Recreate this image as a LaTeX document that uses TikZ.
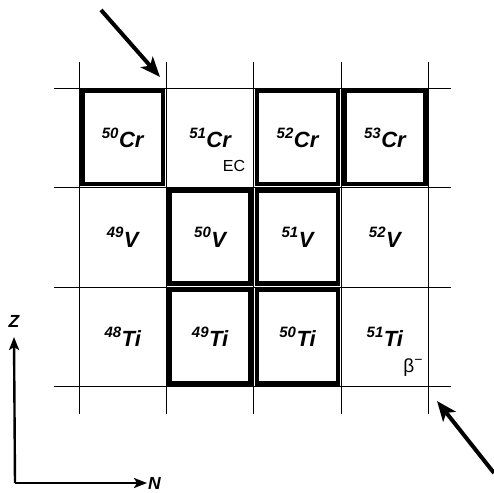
\documentclass[tikz,border=0pt]{standalone}
\usepackage{fontspec}
\setmainfont{Liberation Sans}
\usetikzlibrary{arrows.meta}
\newcommand\nuc[2]{\raisebox{0.42em}{\fontsize{15}{16}\selectfont #1}\kern0.5pt#2}
\tikzset{%
  gridline/.style={line width=0.8pt},
  arrow/.style={-{Stealth[length=20pt,width=16pt,inset=5pt]}, line width=4pt},
  axis/.style={-{Stealth[length=13pt,width=10pt,inset=3pt]}, line width=2.4pt}%
}

\begin{document}
\begin{tikzpicture}[
    x=1pt, y=1pt,
    cell/.style={
        minimum width=80.9pt,
        minimum height=93pt,
        inner sep=0pt,
        font=\fontsize{22}{25}\selectfont\bfseries\itshape
    },
    stable/.style={
        cell,
        draw,
        line width=4.5pt
    },
    decay/.style={
        inner sep=0pt,
        font=\fontsize{16}{18}\selectfont
    },
    axislabel/.style={
        inner sep=0pt,
        font=\fontsize{17.5}{19}\selectfont\bfseries\itshape
    }
]
\useasboundingbox (0,0) rectangle (494,492);

% chart grid
\foreach \i in {0,...,4}
  \draw[gridline] (79+87.4*\i,78) -- (79+87.4*\i,430);
\foreach \j in {0,...,3}
  \draw[gridline] (54,105.5+99.5*\j) -- (451,105.5+99.5*\j);

% Cr row
\node[stable] (cr50) at (122.7,354.25) {\nuc{50}{Cr}};
\node[cell]   (cr51) at (210.1,354.25) {\nuc{51}{Cr}};
\node[stable] (cr52) at (297.5,354.25) {\nuc{52}{Cr}};
\node[stable] (cr53) at (384.9,354.25) {\nuc{53}{Cr}};

% V row
\node[cell]   (v49) at (122.7,254.75) {\nuc{49}{V}};
\node[stable] (v50) at (210.1,254.75) {\nuc{50}{V}};
\node[stable] (v51) at (297.5,254.75) {\nuc{51}{V}};
\node[cell]   (v52) at (384.9,254.75) {\nuc{52}{V}};

% Ti row
\node[cell]   (ti48) at (122.7,155.25) {\nuc{48}{Ti}};
\node[stable] (ti49) at (210.1,155.25) {\nuc{49}{Ti}};
\node[stable] (ti50) at (297.5,155.25) {\nuc{50}{Ti}};
\node[cell]   (ti51) at (384.9,155.25) {\nuc{51}{Ti}};

% decay modes
\node[decay] (ec) at (234,326) {EC};
\node[decay, font=\fontsize{19}{20}\selectfont] (bm) at (413,124)
{β\raisebox{0.45em}{\fontsize{14}{15}\selectfont −}};

% pointers
\coordinate (tlstart) at (101,482);
\coordinate (tlend) at (160,415);
\coordinate (brstart) at (494,19);
\coordinate (brend) at (437,91);
\draw[arrow] (tlstart) -- (tlend);
\draw[arrow] (brstart) -- (brend);

% axes
\coordinate (origin) at (15,9);
\node[axislabel] (zlab) at (14,171) {Z};
\node[axislabel, anchor=west] (nlab) at (148,8.5) {N};
\draw[axis] (origin) -- (zlab.south |- 0,155);
\draw[axis] (origin) -- (147,9);

\end{tikzpicture}
\end{document}
